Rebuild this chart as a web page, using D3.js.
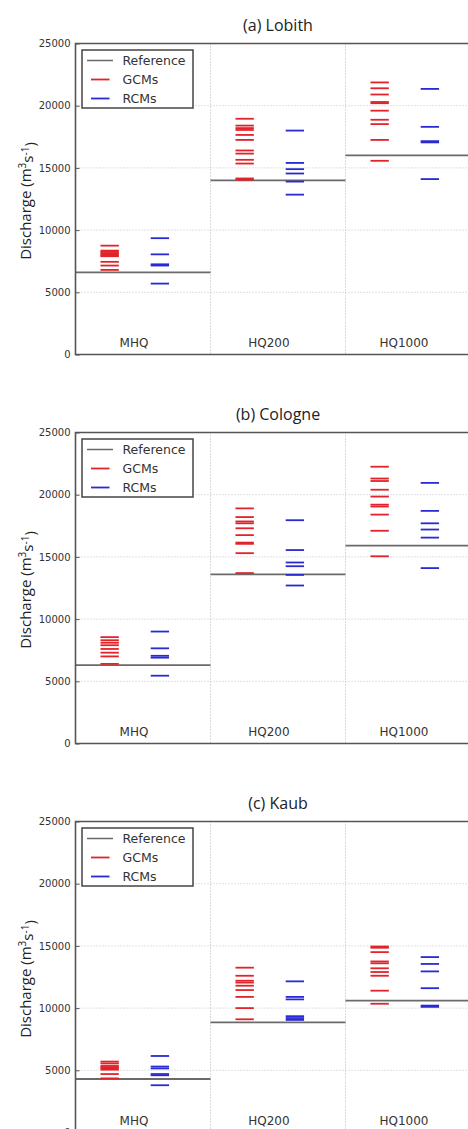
<!DOCTYPE html>
<html>
<head>
<meta charset="utf-8">
<script src="https://cdn.jsdelivr.net/npm/d3@7"></script>
<style>
  body { margin: 0; background: #fff; }
  svg { display: block; }
</style>
</head>
<body>
<svg id="chart"></svg>
<script>
// data
var stations = ["(a) Lobith", "(b) Cologne", "(c) Kaub"];
var periods = ["MHQ", "HQ200", "HQ1000"];
var yTicks = [0, 5000, 10000, 15000, 20000, 25000];
var legendLabels = ["Reference", "GCMs", "RCMs"];

var referenceQ = [
  [6600, 14000, 16000],
  [6300, 13600, 15900],
  [4300, 8850, 10600]
];

var lobithGCM = [
  [8750, 8350, 8250, 8150, 8050, 7950, 7900, 7450, 7150, 6800],
  [18950, 18400, 18200, 18050, 17650, 17250, 16400, 16150, 15650, 15350, 14150, 14050],
  [21870, 21400, 20900, 20300, 20200, 19600, 18870, 18520, 17250, 15570]
];
var lobithRCM = [
  [9350, 8050, 7250, 7150, 5700],
  [18000, 15400, 14900, 14550, 13900, 12850],
  [21350, 18300, 17150, 17050, 14100]
];
var cologneGCM = [
  [8550, 8300, 8100, 7900, 7600, 7300, 7000, 6400],
  [18900, 18200, 17850, 17700, 17300, 16750, 16150, 16050, 15300, 13700],
  [22250, 21300, 21100, 20400, 19850, 19200, 19050, 18400, 17100, 15050]
];
var cologneRCM = [
  [9000, 7650, 7050, 6900, 5450],
  [17950, 15550, 14550, 14250, 13550, 12700],
  [20950, 18700, 17700, 17200, 16550, 14100]
];
var kaubGCM = [
  [5700, 5550, 5350, 5250, 5150, 5050, 4700, 4350],
  [13250, 12600, 12200, 12050, 11800, 11450, 10900, 10000, 9100],
  [14950, 14850, 14500, 13750, 13600, 13200, 12900, 12600, 11400, 10350]
];
var kaubRCM = [
  [6150, 5300, 5150, 4700, 4600, 3800],
  [12150, 10900, 10700, 9350, 9200, 9050],
  [14100, 13550, 12950, 11600, 10200, 10100]
];

var gcmQ = [lobithGCM, cologneGCM, kaubGCM];
var rcmQ = [lobithRCM, cologneRCM, kaubRCM];

var colors = { ref: "#6a6a6a", gcm: "#e2232a", rcm: "#2a2ad2", axis: "#555", grid: "#c4c4c4" };

var width = 468, height = 1129;
var plotLeft = 75.5, plotTop = 43.5, panelStep = 389;
var plotW = 405, plotH = 311;

var svg = d3.select("#chart")
  .attr("width", width)
  .attr("height", height);

var x = d3.scaleLinear().domain([0, 3]).range([0, plotW]);
var y = d3.scaleLinear().domain([0, 25000]).range([plotH, 0]);

// mark positions inside each period slot
var gcmPos = 0.253, rcmPos = 0.625, halfMark = 0.068, labelPos = 0.433;

function drawPanel(k) {
  var g = svg.append("g")
    .attr("transform", "translate(" + plotLeft + "," + (plotTop + k * panelStep) + ")");

  // grid
  g.selectAll(".hgrid")
    .data(yTicks.filter(function (d) { return d > 0 && d < 25000; }))
    .enter().append("line")
    .attr("x1", 0).attr("x2", plotW)
    .attr("y1", function (d) { return y(d); })
    .attr("y2", function (d) { return y(d); })
    .attr("stroke", colors.grid)
    .attr("stroke-width", 1)
    .attr("stroke-dasharray", "1,2");

  g.selectAll(".vgrid")
    .data([1, 2])
    .enter().append("line")
    .attr("x1", function (d) { return x(d); })
    .attr("x2", function (d) { return x(d); })
    .attr("y1", 0).attr("y2", plotH)
    .attr("stroke", "#b4b4b4")
    .attr("stroke-width", 1)
    .attr("stroke-dasharray", "1,2");

  // reference level per period
  g.selectAll(".ref")
    .data(referenceQ[k])
    .enter().append("line")
    .attr("x1", function (d, i) { return x(i); })
    .attr("x2", function (d, i) { return x(i + 1); })
    .attr("y1", function (d) { return y(d); })
    .attr("y2", function (d) { return y(d); })
    .attr("stroke", colors.ref)
    .attr("stroke-width", 1.8);

  // GCM and RCM ticks
  var sets = [
    { vals: gcmQ[k], pos: gcmPos, col: colors.gcm },
    { vals: rcmQ[k], pos: rcmPos, col: colors.rcm }
  ];
  sets.forEach(function (s) {
    s.vals.forEach(function (vals, i) {
      g.selectAll(null)
        .data(vals)
        .enter().append("line")
        .attr("x1", x(i + s.pos - halfMark))
        .attr("x2", x(i + s.pos + halfMark))
        .attr("y1", function (d) { return y(d); })
        .attr("y2", function (d) { return y(d); })
        .attr("stroke", s.col)
        .attr("stroke-width", 1.8);
    });
  });

  // y axis with inward ticks
  var yAxis = g.append("g")
    .call(d3.axisLeft(y).tickValues(yTicks).tickSize(-4).tickPadding(5).tickFormat(d3.format("d")));
  yAxis.select(".domain").remove();
  yAxis.selectAll("line").attr("stroke", colors.axis);
  yAxis.selectAll("text")
    .attr("fill", "#333")
    .style("font-family", "DejaVu Sans")
    .style("font-size", "10px");

  // frame (left, top, bottom)
  g.append("path")
    .attr("d", "M" + plotW + ",0H0V" + plotH + "H" + plotW)
    .attr("fill", "none")
    .attr("stroke", colors.axis)
    .attr("stroke-width", 1.6);

  // period labels
  g.selectAll(".plabel")
    .data(periods)
    .enter().append("text")
    .attr("x", function (d, i) { return x(i + labelPos); })
    .attr("y", plotH - 8)
    .attr("text-anchor", "middle")
    .attr("fill", "#333")
    .style("font-family", "DejaVu Sans")
    .style("font-size", "12px")
    .text(function (d) { return d; });

  // legend
  var lg = g.append("g").attr("transform", "translate(6.5,6.5)");
  lg.append("rect")
    .attr("width", 111).attr("height", 58)
    .attr("fill", "#fff")
    .attr("stroke", "#444")
    .attr("stroke-width", 1.5);
  var legendCols = [colors.ref, colors.gcm, colors.rcm];
  legendLabels.forEach(function (lab, i) {
    var ly = 10.5 + i * 19;
    lg.append("line")
      .attr("x1", i == 0 ? 5 : 9).attr("x2", i == 0 ? 31 : 27.5)
      .attr("y1", ly).attr("y2", ly)
      .attr("stroke", legendCols[i])
      .attr("stroke-width", i == 0 ? 1.5 : 1.8);
    lg.append("text")
      .attr("x", 40.5).attr("y", ly)
      .attr("dy", "0.35em")
      .attr("fill", "#333")
      .style("font-family", "DejaVu Sans")
      .style("font-size", "12.5px")
      .text(lab);
  });

  // title
  g.append("text")
    .attr("x", plotW / 2)
    .attr("y", -13)
    .attr("text-anchor", "middle")
    .attr("fill", "#222")
    .style("font-family", "Open Sans")
    .style("font-size", "16px")
    .text(stations[k]);

  // y label
  var yl = g.append("text")
    .attr("transform", "translate(-50," + (plotH / 2 + 2) + ") rotate(-90)")
    .attr("text-anchor", "middle")
    .attr("dy", "0.35em")
    .attr("fill", "#222")
    .style("font-family", "Open Sans")
    .style("font-size", "15px");
  yl.append("tspan").text("Discharge (m");
  yl.append("tspan").attr("dy", "-0.45em").style("font-size", "10px").text("3");
  yl.append("tspan").attr("dy", "0.45em").text("s");
  yl.append("tspan").attr("dy", "-0.45em").style("font-size", "10px").text("-1");
  yl.append("tspan").attr("dy", "0.45em").text(")");
}

for (var k = 0; k < stations.length; k++) {
  drawPanel(k);
}
</script>
</body>
</html>
